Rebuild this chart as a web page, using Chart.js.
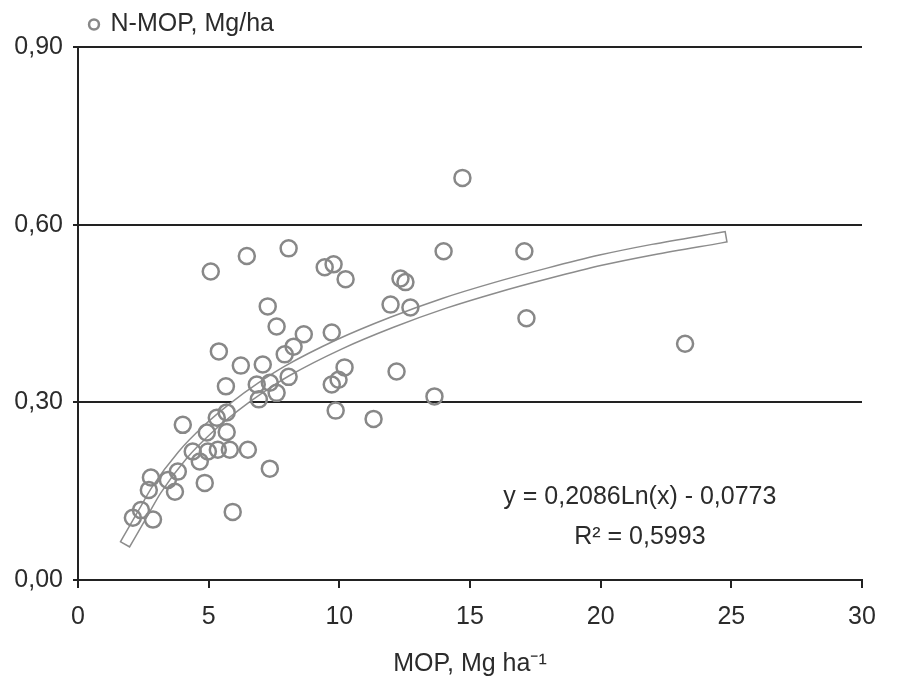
<!DOCTYPE html>
<html>
<head>
<meta charset="utf-8">
<script src="https://cdn.jsdelivr.net/npm/chart.js@4/dist/chart.umd.min.js"></script>
<style>
html,body{margin:0;padding:0;background:#fff;}
#wrap{width:903px;height:688px;position:relative;}
</style>
</head>
<body>
<div id="wrap"><canvas id="c" width="903" height="688"></canvas></div>
<script>
// Scatter data
const mopX = [14.71, 13.99, 17.08, 17.16, 23.23, 13.64, 11.31, 12.19, 11.96, 12.72,
  12.34, 12.53, 9.44, 9.78, 10.24, 8.06, 6.46, 5.08, 7.26, 7.60,
  8.64, 9.71, 8.25, 7.91, 5.39, 6.23, 7.07, 10.20, 8.06, 7.34,
  6.84, 5.66, 7.60, 6.92, 9.71, 9.97, 9.86, 5.69, 5.31, 4.01,
  4.93, 5.69, 4.39, 4.97, 5.35, 5.81, 6.50, 4.66, 7.34, 3.82,
  3.44, 2.79, 4.85, 2.71, 3.71, 2.41, 2.87, 2.10, 5.92];
const nmopY = [0.679, 0.555, 0.555, 0.442, 0.399, 0.310, 0.272, 0.352, 0.465, 0.460,
  0.509, 0.503, 0.528, 0.533, 0.508, 0.560, 0.547, 0.521, 0.462, 0.428,
  0.415, 0.418, 0.394, 0.381, 0.386, 0.362, 0.364, 0.359, 0.343, 0.333,
  0.330, 0.327, 0.316, 0.305, 0.330, 0.338, 0.286, 0.283, 0.274, 0.262,
  0.249, 0.250, 0.217, 0.217, 0.220, 0.220, 0.220, 0.200, 0.188, 0.183,
  0.169, 0.173, 0.164, 0.152, 0.149, 0.118, 0.102, 0.105, 0.115];
// Trend line
const trendX = [1.9, 2.5, 3, 4, 5, 6, 7, 8, 10, 12, 14, 16, 18, 20, 22, 24.6];
const trendY = [0.068, 0.114, 0.152, 0.211, 0.256, 0.293, 0.325, 0.353, 0.398, 0.435, 0.467, 0.494, 0.518, 0.540, 0.558, 0.578];
const xTicks = [0, 5, 10, 15, 20, 25, 30];
const yTicks = [0, 0.3, 0.6, 0.9];
const seriesName = 'N-MOP, Mg/ha';
const xTitle = 'MOP, Mg ha\u207B\u00B9';
const eqLine1 = 'y = 0,2086Ln(x) - 0,0773';
const eqLine2 = 'R\u00B2 = 0,5993';

const pts = mopX.map((x, i) => ({x: x, y: nmopY[i]}));
const trend = trendX.map((x, i) => ({x: x, y: trendY[i]}));

const FONT = 'Liberation Sans, Arial, sans-serif';
const TXT = '#2b2b2b';
const FS = 25;

const eqPlugin = {
  id: 'eq',
  afterDraw(chart) {
    const ctx = chart.ctx;
    const xs = chart.scales.x, ys = chart.scales.y;
    ctx.save();
    ctx.fillStyle = TXT;
    ctx.font = FS + 'px ' + FONT;
    ctx.textAlign = 'center';
    ctx.textBaseline = 'middle';
    ctx.fillText(eqLine1, xs.getPixelForValue(21.5), ys.getPixelForValue(0.140));
    ctx.fillText(eqLine2, xs.getPixelForValue(21.5), ys.getPixelForValue(0.073));
    ctx.restore();
  }
};

new Chart(document.getElementById('c'), {
  type: 'scatter',
  data: {
    datasets: [
      {
        label: seriesName,
        data: pts,
        pointStyle: 'circle',
        pointRadius: 8,
        pointHoverRadius: 8,
        borderWidth: 2.5,
        borderColor: '#888888',
        backgroundColor: 'rgba(255,255,255,0)',
        order: 0
      },
      {
        label: 'trend-in',
        data: trend,
        showLine: true,
        pointRadius: 0,
        borderColor: '#ffffff',
        borderWidth: 9,
        borderCapStyle: 'square',
        cubicInterpolationMode: 'monotone',
        order: 1
      },
      {
        label: 'trend-out',
        data: trend,
        showLine: true,
        pointRadius: 0,
        borderColor: '#8c8c8c',
        borderWidth: 12,
        borderCapStyle: 'square',
        cubicInterpolationMode: 'monotone',
        order: 2
      }
    ]
  },
  options: {
    responsive: false,
    animation: false,
    devicePixelRatio: 1,
    layout: {padding: {left: 0, right: 41, top: 0, bottom: 0}},
    plugins: {
      tooltip: {enabled: false},
      legend: {
        display: true,
        position: 'top',
        align: 'start',
        fullSize: false,
        labels: {
          filter: (item) => item.datasetIndex === 0,
          usePointStyle: true,
          pointStyle: 'circle',
          boxWidth: 8,
          boxHeight: 7,
          padding: 12,
          color: TXT,
          font: {family: FONT, size: FS}
        }
      }
    },
    scales: {
      x: {
        type: 'linear',
        min: 0,
        max: 30,
        afterFit: (s) => { s.height = 108; },
        afterBuildTicks: (s) => { s.ticks = xTicks.map(v => ({value: v})); },
        ticks: {
          color: TXT,
          padding: 14,
          font: {family: FONT, size: FS},
          callback: (v) => String(v)
        },
        grid: {drawOnChartArea: false, drawTicks: true, tickLength: 8, color: '#222', lineWidth: 2},
        border: {display: true, color: '#222', width: 2},
        title: {display: true, text: xTitle, color: TXT, font: {family: FONT, size: FS}, padding: {top: 0, bottom: 9}}
      },
      y: {
        type: 'linear',
        min: 0,
        max: 0.9,
        afterFit: (s) => { s.width = 78; },
        afterBuildTicks: (s) => { s.ticks = yTicks.map(v => ({value: v})); },
        ticks: {
          color: TXT,
          padding: 10,
          font: {family: FONT, size: FS},
          callback: (v) => Number(v).toFixed(2).replace('.', ',')
        },
        grid: {drawOnChartArea: true, drawTicks: true, tickLength: 5, color: '#222', lineWidth: 2},
        border: {display: true, color: '#222', width: 2}
      }
    }
  },
  plugins: [eqPlugin]
});
</script>
</body>
</html>
